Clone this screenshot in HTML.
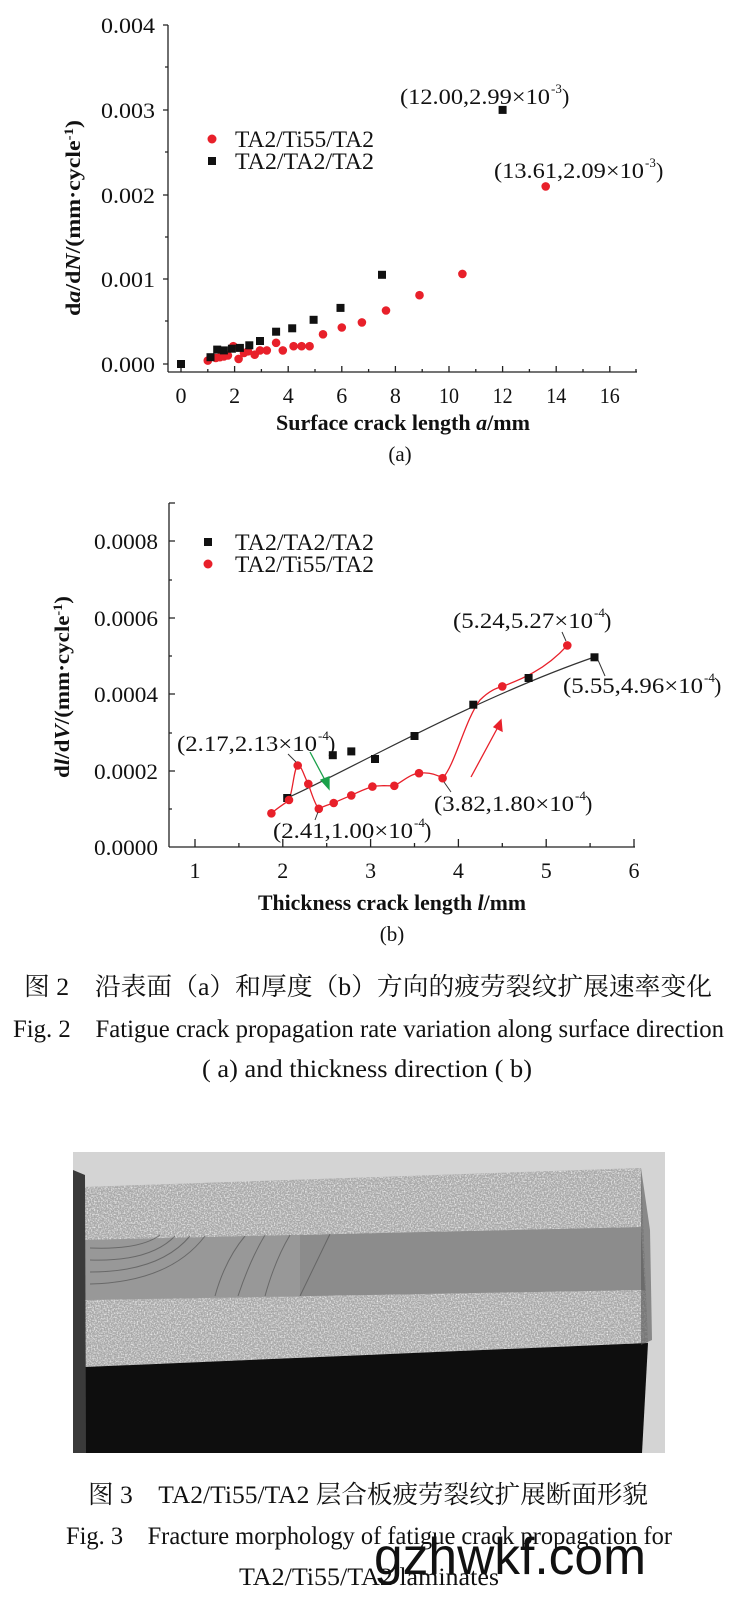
<!DOCTYPE html>
<html><head><meta charset="utf-8"><style>
html,body{margin:0;padding:0;background:#fff;}
svg{display:block;}
text{font-family:"Liberation Serif","Noto Serif CJK SC",serif;fill:#111;}
.cn{font-family:"Liberation Serif","Noto Serif CJK SC",serif;}
</style></head><body>
<svg width="738" height="1605" viewBox="0 0 738 1605" xmlns="http://www.w3.org/2000/svg">
<defs>
<filter id="noise" x="0" y="0" width="100%" height="100%">
<feTurbulence type="fractalNoise" baseFrequency="0.7" numOctaves="2" seed="3" result="n"/>
<feColorMatrix type="matrix" values="0 0 0 0 0  0 0 0 0 0  0 0 0 0 0  0 0 0 2.2 -0.9" in="n" result="a"/>
<feComposite in="SourceGraphic" in2="a" operator="in"/>
</filter>
</defs>

<!-- ===== Chart (a) ===== -->
<g stroke="#222" stroke-width="1.3" fill="none">
<line x1="168" y1="25" x2="168" y2="372"/>
<line x1="168" y1="372" x2="637" y2="372"/>
<path d="M163,25H168M163,110H168M163,195H168M163,279H168M163,364H168M165,67H168M165,152H168M165,237H168M165,321H168"/>
<path d="M181,372V366M234.6,372V366M288.2,372V366M341.8,372V366M395.4,372V366M449,372V366M502.6,372V366M556.2,372V366M609.8,372V366M207.8,372V369M261.4,372V369M315,372V369M368.6,372V369M422.2,372V369M475.8,372V369M529.4,372V369M583,372V369M636,372V369"/>
</g>
<g font-size="22" text-anchor="end">
<text x="155" y="33" textLength="54" lengthAdjust="spacingAndGlyphs">0.004</text>
<text x="155" y="118" textLength="54" lengthAdjust="spacingAndGlyphs">0.003</text>
<text x="155" y="203" textLength="54" lengthAdjust="spacingAndGlyphs">0.002</text>
<text x="155" y="287" textLength="54" lengthAdjust="spacingAndGlyphs">0.001</text>
<text x="155" y="372" textLength="54" lengthAdjust="spacingAndGlyphs">0.000</text>
</g>
<g font-size="22" text-anchor="middle">
<text x="181" y="403">0</text><text x="234.6" y="403">2</text><text x="288.2" y="403">4</text><text x="341.8" y="403">6</text><text x="395.4" y="403">8</text><text x="449" y="403" textLength="20" lengthAdjust="spacingAndGlyphs">10</text><text x="502.6" y="403" textLength="20" lengthAdjust="spacingAndGlyphs">12</text><text x="556.2" y="403" textLength="20" lengthAdjust="spacingAndGlyphs">14</text><text x="609.8" y="403" textLength="20" lengthAdjust="spacingAndGlyphs">16</text>
</g>
<text x="276" y="430" font-size="22" font-weight="bold" textLength="254" lengthAdjust="spacingAndGlyphs">Surface crack length <tspan font-style="italic">a</tspan>/mm</text>
<text x="400" y="461" font-size="21" text-anchor="middle">(a)</text>
<text transform="translate(80,218) rotate(-90)" font-size="21" font-weight="bold" text-anchor="middle" textLength="196" lengthAdjust="spacingAndGlyphs">d<tspan font-style="italic">a</tspan>/d<tspan font-style="italic">N</tspan>/(mm·cycle<tspan font-size="13" dy="-7">-1</tspan><tspan dy="7">)</tspan></text>

<circle cx="212" cy="139" r="4.5" fill="#e8202a"/>
<text x="235" y="147" font-size="23" textLength="139" lengthAdjust="spacingAndGlyphs">TA2/Ti55/TA2</text>
<rect x="208" y="157" width="8" height="8" fill="#111"/>
<text x="235" y="169" font-size="23" textLength="139" lengthAdjust="spacingAndGlyphs">TA2/TA2/TA2</text>

<text x="400" y="104" font-size="22" textLength="150" lengthAdjust="spacingAndGlyphs">(12.00,2.99×10</text><text x="551" y="93" font-size="13">-3</text><text x="562" y="104" font-size="22">)</text>
<text x="494" y="178" font-size="22" textLength="150" lengthAdjust="spacingAndGlyphs">(13.61,2.09×10</text><text x="645" y="167" font-size="13">-3</text><text x="656" y="178" font-size="22">)</text>

<g fill="#e8202a">
<circle cx="207.8" cy="360.6" r="4.3"/><circle cx="215.8" cy="358" r="4.3"/><circle cx="219.9" cy="357.2" r="4.3"/><circle cx="223.9" cy="356.4" r="4.3"/><circle cx="227.9" cy="355.5" r="4.3"/><circle cx="233.3" cy="346.2" r="4.3"/><circle cx="238.6" cy="358.9" r="4.3"/><circle cx="244" cy="353" r="4.3"/><circle cx="248" cy="351.3" r="4.3"/><circle cx="254.7" cy="354.7" r="4.3"/><circle cx="260" cy="350.4" r="4.3"/><circle cx="266.8" cy="350.4" r="4.3"/><circle cx="276.1" cy="342.8" r="4.3"/><circle cx="282.8" cy="350.4" r="4.3"/><circle cx="293.6" cy="346.2" r="4.3"/><circle cx="301.6" cy="346.2" r="4.3"/><circle cx="309.6" cy="346.2" r="4.3"/><circle cx="323" cy="334.3" r="4.3"/><circle cx="341.8" cy="327.5" r="4.3"/><circle cx="361.9" cy="322.4" r="4.3"/><circle cx="386" cy="310.5" r="4.3"/><circle cx="419.5" cy="295.2" r="4.3"/><circle cx="462.4" cy="273.9" r="4.3"/><circle cx="545.7" cy="186.4" r="4.3"/>
</g>
<g fill="#111">
<rect x="177" y="360" width="8" height="8"/><rect x="206.5" y="353.2" width="8" height="8"/><rect x="213.2" y="345.6" width="8" height="8"/><rect x="219.9" y="346.4" width="8" height="8"/><rect x="227.9" y="344.7" width="8" height="8"/><rect x="235.9" y="343.9" width="8" height="8"/><rect x="245.3" y="341.3" width="8" height="8"/><rect x="256" y="337" width="8" height="8"/><rect x="272.1" y="327.7" width="8" height="8"/><rect x="288.2" y="324.3" width="8" height="8"/><rect x="309.6" y="315.8" width="8" height="8"/><rect x="336.5" y="303.9" width="8" height="8"/><rect x="378" y="270.8" width="8" height="8"/><rect x="498.6" y="105.9" width="8" height="8"/>
</g>

<!-- ===== Chart (b) ===== -->
<g stroke="#222" stroke-width="1.3" fill="none">
<line x1="169" y1="503" x2="169" y2="847"/>
<line x1="169" y1="847" x2="635" y2="847"/>
<path d="M169,541H175M169,618H175M169,694H175M169,771H175M169,580H172M169,656H172M169,733H172M169,809H172M169,503H175"/>
<path d="M195,847V839M282.8,847V839M370.6,847V839M458.4,847V839M546.2,847V839M634,847V839M238.9,847V843M326.7,847V843M414.5,847V843M502.3,847V843M590.1,847V843"/>
</g>
<g font-size="22" text-anchor="end">
<text x="158" y="549" textLength="64" lengthAdjust="spacingAndGlyphs">0.0008</text>
<text x="158" y="626" textLength="64" lengthAdjust="spacingAndGlyphs">0.0006</text>
<text x="158" y="702" textLength="64" lengthAdjust="spacingAndGlyphs">0.0004</text>
<text x="158" y="779" textLength="64" lengthAdjust="spacingAndGlyphs">0.0002</text>
<text x="158" y="855" textLength="64" lengthAdjust="spacingAndGlyphs">0.0000</text>
</g>
<g font-size="22" text-anchor="middle">
<text x="195" y="878">1</text><text x="282.8" y="878">2</text><text x="370.6" y="878">3</text><text x="458.4" y="878">4</text><text x="546.2" y="878">5</text><text x="634" y="878">6</text>
</g>
<text x="258" y="910" font-size="22" font-weight="bold" textLength="268" lengthAdjust="spacingAndGlyphs">Thickness crack length <tspan font-style="italic">l</tspan>/mm</text>
<text x="392" y="941" font-size="21" text-anchor="middle">(b)</text>
<text transform="translate(69,687) rotate(-90)" font-size="21" font-weight="bold" text-anchor="middle" textLength="182" lengthAdjust="spacingAndGlyphs">d<tspan font-style="italic">l</tspan>/d<tspan font-style="italic">V</tspan>/(mm·cycle<tspan font-size="13" dy="-7">-1</tspan><tspan dy="7">)</tspan></text>

<rect x="204" y="538" width="8" height="8" fill="#111"/>
<text x="235" y="550" font-size="23" textLength="139" lengthAdjust="spacingAndGlyphs">TA2/TA2/TA2</text>
<circle cx="208" cy="564" r="4.5" fill="#e8202a"/>
<text x="235" y="572" font-size="23" textLength="139" lengthAdjust="spacingAndGlyphs">TA2/Ti55/TA2</text>

<path d="M287,798 C340,775 470,700 594.5,657" stroke="#333" stroke-width="1.2" fill="none"/>
<path d="M271.4,813.3 C280,806 286,803 289,800 C293,790 294,768 297.7,765.5 C301,764 304,776 308.3,783.9 C311,792 315,805 318.8,808.8 C324,806 328,805 333.7,803 C340,800 345,798 351.3,795.4 C358,792 365,789 372.4,786.6 C380,785 387,786 394.3,785.8 C402,782 410,774 419,773.2 C428,772 436,774 442.6,778.2 C455,765 465,720 480,700 C490,690 497,688 502.3,686.4 C520,680 545,670 567.3,645.4" stroke="#e8202a" stroke-width="1.3" fill="none"/>

<g fill="#111">
<rect x="283.2" y="794" width="8" height="8"/><rect x="328.8" y="751.2" width="8" height="8"/><rect x="347.3" y="747.4" width="8" height="8"/><rect x="371" y="755" width="8" height="8"/><rect x="410.5" y="732" width="8" height="8"/><rect x="469.3" y="700.7" width="8" height="8"/><rect x="524.6" y="674" width="8" height="8"/><rect x="590.5" y="653.3" width="8" height="8"/>
</g>
<g fill="#e8202a">
<circle cx="271.4" cy="813.3" r="4.3"/><circle cx="289" cy="800" r="4.3"/><circle cx="297.7" cy="765.5" r="4.3"/><circle cx="308.3" cy="783.9" r="4.3"/><circle cx="318.8" cy="808.8" r="4.3"/><circle cx="333.7" cy="803" r="4.3"/><circle cx="351.3" cy="795.4" r="4.3"/><circle cx="372.4" cy="786.6" r="4.3"/><circle cx="394.3" cy="785.8" r="4.3"/><circle cx="419" cy="773.2" r="4.3"/><circle cx="442.6" cy="778.2" r="4.3"/><circle cx="502.3" cy="686.4" r="4.3"/><circle cx="567.3" cy="645.4" r="4.3"/>
</g>
<g stroke="#333" stroke-width="1">
<line x1="296" y1="762" x2="288" y2="754"/>
<line x1="318" y1="812" x2="315" y2="820"/>
<line x1="444" y1="782" x2="451" y2="792"/>
<line x1="566" y1="641" x2="562" y2="632"/>
<line x1="598" y1="660" x2="605" y2="676"/>
</g>
<g stroke="#1aa04a" stroke-width="1.3" fill="#1aa04a">
<line x1="310" y1="752" x2="326" y2="782"/><path d="M329,789 L321,780 L329,777 Z"/>
</g>
<g stroke="#e8202a" stroke-width="1.3" fill="#e8202a">
<line x1="471" y1="777" x2="498" y2="727"/><path d="M501,720 L502,731 L494,727 Z"/>
</g>

<text x="177" y="751" font-size="22" textLength="140" lengthAdjust="spacingAndGlyphs">(2.17,2.13×10</text><text x="318" y="740" font-size="13">-4</text><text x="328" y="751" font-size="22">)</text>
<text x="273" y="838" font-size="22" textLength="140" lengthAdjust="spacingAndGlyphs">(2.41,1.00×10</text><text x="414" y="827" font-size="13">-4</text><text x="424" y="838" font-size="22">)</text>
<text x="434" y="811" font-size="22" textLength="140" lengthAdjust="spacingAndGlyphs">(3.82,1.80×10</text><text x="575" y="800" font-size="13">-4</text><text x="585" y="811" font-size="22">)</text>
<text x="453" y="628" font-size="22" textLength="140" lengthAdjust="spacingAndGlyphs">(5.24,5.27×10</text><text x="594" y="617" font-size="13">-4</text><text x="604" y="628" font-size="22">)</text>
<text x="563" y="693" font-size="22" textLength="140" lengthAdjust="spacingAndGlyphs">(5.55,4.96×10</text><text x="704" y="682" font-size="13">-4</text><text x="714" y="693" font-size="22">)</text>

<!-- ===== Captions Fig 2 ===== -->
<text x="24" y="995" font-size="25" class="cn" textLength="688" lengthAdjust="spacingAndGlyphs">图 2　沿表面（a）和厚度（b）方向的疲劳裂纹扩展速率变化</text>
<text x="13" y="1037" font-size="25" textLength="711" lengthAdjust="spacingAndGlyphs">Fig. 2　Fatigue crack propagation rate variation along surface direction</text>
<text x="202" y="1077" font-size="25" textLength="330" lengthAdjust="spacingAndGlyphs">( a) and thickness direction ( b)</text>

<!-- ===== Photo ===== -->
<rect x="73" y="1152" width="592" height="301" fill="#d4d4d4"/>
<polygon points="83,1187 641,1168 648,1343 85,1367" fill="#a8a8a8"/>
<polygon points="83,1187 641,1168 648,1343 85,1367" fill="#f4f4f4" filter="url(#noise)"/>
<polygon points="83,1240 641,1227 645,1290 84,1300" fill="#8c8c8c"/>
<polygon points="83,1240 300,1235 300,1297 84,1300" fill="#a0a0a0" opacity="0.6"/>
<g stroke="#555" stroke-width="1" fill="none" opacity="0.7">
<path d="M90,1248 Q140,1250 160,1235"/><path d="M90,1260 Q150,1262 175,1236"/><path d="M90,1272 Q160,1272 190,1236"/><path d="M90,1284 Q170,1282 205,1236"/><path d="M215,1296 Q225,1260 245,1236"/><path d="M238,1296 Q250,1260 265,1235"/><path d="M265,1296 Q275,1260 290,1235"/><path d="M300,1296 L330,1234"/>
</g>
<polygon points="85,1367 648,1343 642,1453 85,1453" fill="#0e0e0e"/>
<polygon points="73,1170 85,1175 86,1453 73,1453" fill="#3a3a3a"/>
<polygon points="641,1168 650,1230 652,1340 641,1345" fill="#555" opacity="0.6"/>

<!-- ===== Captions Fig 3 ===== -->
<text x="88" y="1503" font-size="25" class="cn" textLength="560" lengthAdjust="spacingAndGlyphs">图 3　TA2/Ti55/TA2 层合板疲劳裂纹扩展断面形貌</text>
<text x="66" y="1544" font-size="25" textLength="606" lengthAdjust="spacingAndGlyphs">Fig. 3　Fracture morphology of fatigue crack propagation for</text>
<text x="239" y="1585" font-size="25" textLength="260" lengthAdjust="spacingAndGlyphs">TA2/Ti55/TA2 laminates</text>
<text x="374" y="1574" font-size="52" style="font-family:'Liberation Sans',sans-serif" fill="#000" textLength="272" lengthAdjust="spacingAndGlyphs">gzhwkf.com</text>
</svg>
</body></html>
